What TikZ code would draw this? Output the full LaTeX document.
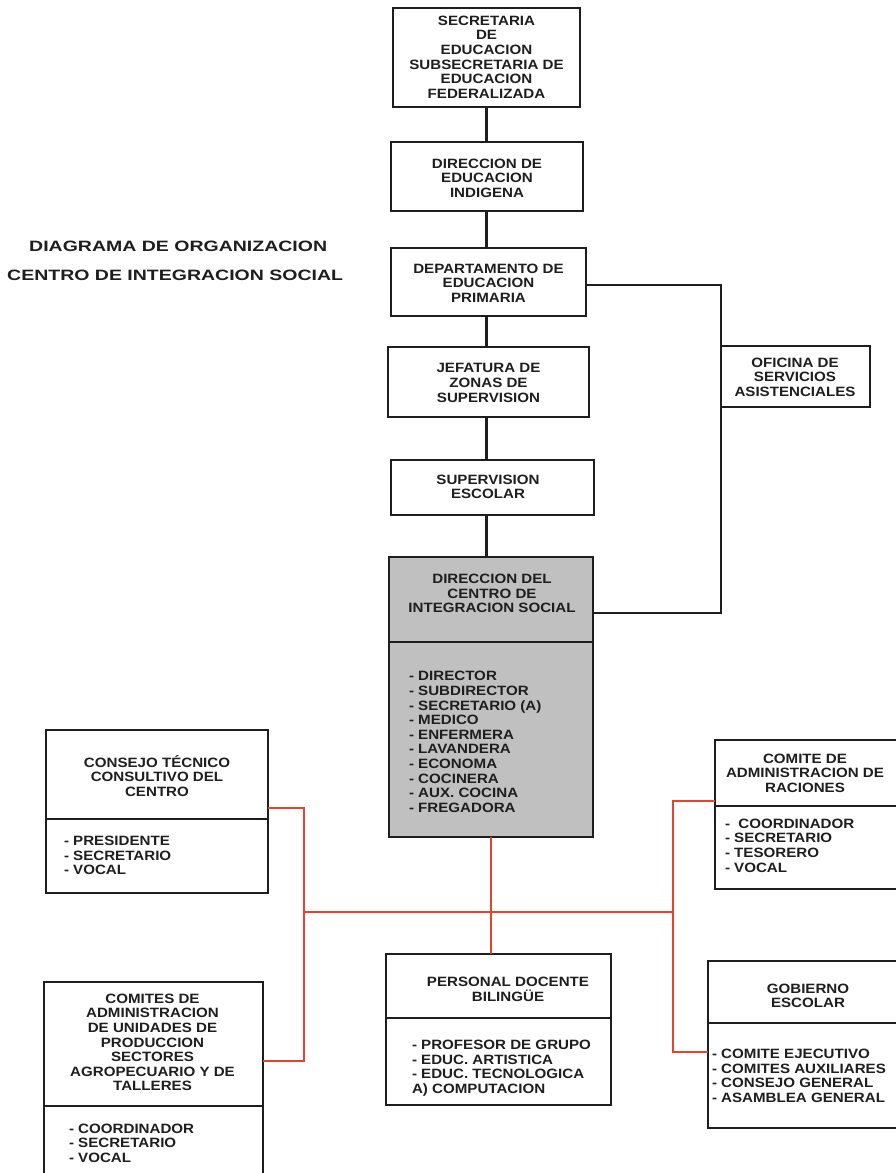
\documentclass[tikz,border=0pt]{standalone}
\usepackage{fontspec}
\setmainfont{Liberation Sans}
\newfontfamily\boxfont[FakeStretch=1.12]{Liberation Sans}
\newfontfamily\titfont[FakeStretch=1.3]{Liberation Sans}
\usetikzlibrary{fit}
\definecolor{ink}{HTML}{1E1E1E}
\definecolor{lnred}{HTML}{E6432E}
\definecolor{boxgray}{HTML}{C0C0C0}
\tikzset{
  bx/.style={draw=ink, line width=2.2pt, inner sep=0pt, outer sep=0pt},
  lbl/.style={inner sep=0pt, outer sep=0pt, align=center, text=ink,
    font=\boxfont\bfseries\fontsize{13.5}{14.6}\selectfont},
  lst/.style={lbl, align=left, anchor=west},
  tit/.style={inner sep=0pt, text=ink, anchor=west,
    font=\titfont\bfseries\fontsize{15}{16}\selectfont},
  conn/.style={draw=ink, line width=2.2pt},
  rc/.style={draw=lnred, line width=2.1pt},
  divl/.style={draw=ink, line width=1.9pt}
}
\begin{document}
\begin{tikzpicture}[x=1pt,y=-1pt]
\fill[white] (0,0) rectangle (895,1173);
\useasboundingbox (0,0) rectangle (895,1173);

% titles
\node[tit] (t1) at (29,246) {DIAGRAMA DE ORGANIZACION};
\node[tit] (t2) at (7,275) {CENTRO DE INTEGRACION SOCIAL};

% main chain
\node[bx, fit={(393,8)(580,107)}] (sec) {};
\node[lbl] (sect) at (486.5,57) {SECRETARIA\\DE\\EDUCACION\\SUBSECRETARIA DE\\EDUCACION\\FEDERALIZADA};

\node[bx, fit={(391,142)(583,211)}] (dir) {};
\node[lbl] (dirt) at (487,178) {DIRECCION DE\\EDUCACION\\INDIGENA};

\node[bx, fit={(391,248)(586,316)}] (dep) {};
\node[lbl] (dept) at (488.5,283) {DEPARTAMENTO DE\\EDUCACION\\PRIMARIA};

\node[bx, fit={(388,347)(589,417)}] (jef) {};
\node[lbl] (jeft) at (488.5,383) {JEFATURA DE\\ZONAS DE\\SUPERVISION};

\node[bx, fit={(391,460)(594,515)}] (sup) {};
\node[lbl] (supt) at (488,487) {SUPERVISION\\ESCOLAR};

\node[bx, fill=boxgray, fit={(389,557)(593,837)}] (gray) {};
\draw[divl] (gray.west |- 0,642) -- (gray.east |- 0,642);
\node[lbl] (grayt) at (492,593.5) {DIRECCION DEL\\CENTRO DE\\INTEGRACION SOCIAL};
\node[lst] (grayl) at (409,742) {- DIRECTOR\\- SUBDIRECTOR\\- SECRETARIO (A)\\- MEDICO\\- ENFERMERA\\- LAVANDERA\\- ECONOMA\\- COCINERA\\- AUX. COCINA\\- FREGADORA};

\node[bx, fit={(721,346)(870,407)}] (ofi) {};
\node[lbl] (ofit) at (795,377) {OFICINA DE\\SERVICIOS\\ASISTENCIALES};

% lower boxes
\node[bx, fit={(46,730)(268,893)}] (cons) {};
\draw[divl] (cons.west |- 0,819) -- (cons.east |- 0,819);
\node[lbl] (const) at (157,776) {CONSEJO TÉCNICO\\CONSULTIVO DEL\\CENTRO};
\node[lst] (consl) at (64,855.5) {- PRESIDENTE\\- SECRETARIO\\- VOCAL};

\node[bx, fit={(44,982)(263,1190)}] (comi) {};
\draw[divl] (comi.west |- 0,1106) -- (comi.east |- 0,1106);
\node[lbl] (comit) at (152.5,1042.5) {COMITES DE\\ADMINISTRACION\\DE UNIDADES DE\\PRODUCCION\\SECTORES\\AGROPECUARIO Y DE\\TALLERES};
\node[lst] (comil) at (69,1143) {- COORDINADOR\\- SECRETARIO\\- VOCAL};

\node[bx, fit={(386,954)(611,1105)}] (pers) {};
\draw[divl] (pers.west |- 0,1018) -- (pers.east |- 0,1018);
\node[lbl] (perst) at (508,989.5) {PERSONAL DOCENTE\\BILINGÜE};
\node[lst] (persl) at (412,1068) {- PROFESOR DE GRUPO\\- EDUC. ARTISTICA\\- EDUC. TECNOLOGICA\\A) COMPUTACION};

\node[bx, fit={(715,740)(905,889)}] (rac) {};
\draw[divl] (rac.west |- 0,806) -- (rac.east |- 0,806);
\node[lbl] (ract) at (805,773) {COMITE DE\\ADMINISTRACION DE\\RACIONES};
\node[lst] (racl) at (725,845.5) {-\ \ COORDINADOR\\- SECRETARIO\\- TESORERO\\- VOCAL};

\node[bx, fit={(708,961)(905,1128)}] (gob) {};
\draw[divl] (gob.west |- 0,1023) -- (gob.east |- 0,1023);
\node[lbl] (gobt) at (808,996) {GOBIERNO\\ESCOLAR};
\node[lst] (gobl) at (712,1076) {- COMITE EJECUTIVO\\- COMITES AUXILIARES\\- CONSEJO GENERAL\\- ASAMBLEA GENERAL};

% black connectors
\draw[conn] (sec.south) -- (sec.south |- dir.north);
\draw[conn] (sec.south |- dir.south) -- (sec.south |- dep.north);
\draw[conn] (sec.south |- dep.south) -- (sec.south |- jef.north);
\draw[conn] (sec.south |- jef.south) -- (sec.south |- sup.north);
\draw[conn] (sec.south |- sup.south) -- (sec.south |- gray.north);
\coordinate (dj) at (600,285);
\coordinate (gj) at (600,613);
\draw[conn] (dep.east |- dj) -| (ofi.north west);
\draw[conn] (ofi.south west) |- (gray.east |- gj);

% red connectors
\coordinate (lx) at (304,912);
\coordinate (rx) at (673,912);
\coordinate (cl) at (0,808);
\coordinate (cm) at (0,1061);
\coordinate (rl) at (0,801);
\coordinate (gl) at (0,1052);
\draw[rc] (gray.south) -- (gray.south |- pers.north);
\draw[rc] (lx) -- (rx);
\draw[rc] (cons.east |- cl) -| (lx) |- (comi.east |- cm);
\draw[rc] (rac.west |- rl) -| (rx) |- (gob.west |- gl);
\end{tikzpicture}
\end{document}
